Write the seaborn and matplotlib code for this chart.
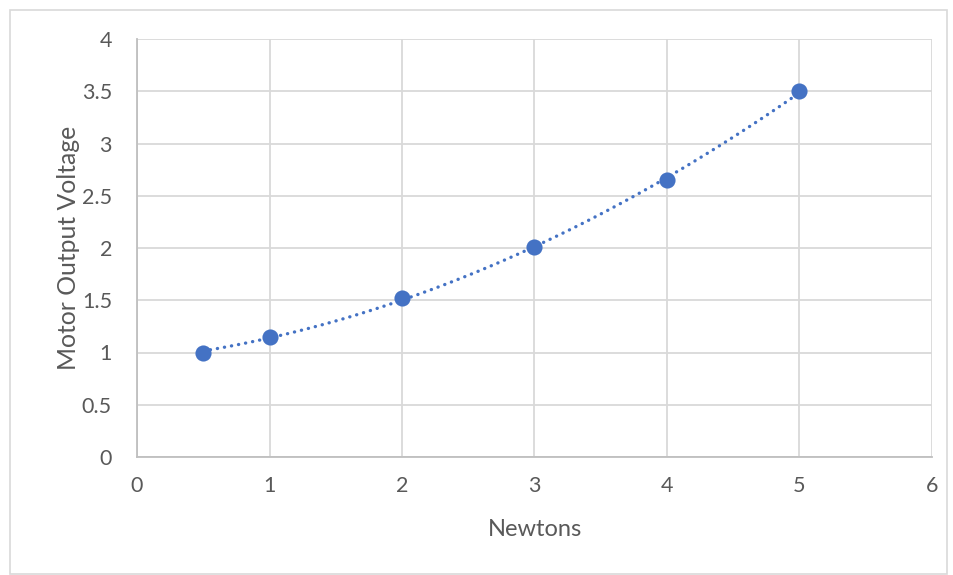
import matplotlib
matplotlib.use("Agg")
import matplotlib.pyplot as plt
from matplotlib.patches import Rectangle
import seaborn as sns
import pandas as pd

# Measured force vs. motor output voltage
newtons = [0.5, 1, 2, 3, 4, 5]
voltage = [1.0, 1.15, 1.52, 2.01, 2.65, 3.5]
x_ticks = [0, 1, 2, 3, 4, 5, 6]
y_ticks = [0, 0.5, 1, 1.5, 2, 2.5, 3, 3.5, 4]
y_tick_labels = ["0", "0.5", "1", "1.5", "2", "2.5", "3", "3.5", "4"]

df = pd.DataFrame({"Newtons": newtons, "Voltage": voltage})

sns.set_theme(style="white")
plt.rcParams["font.family"] = ["Lato", "DejaVu Sans"]

BLUE = "#4472C4"
TEXT = "#595959"
GRID = "#d9d9d9"

fig = plt.figure(figsize=(9.54, 5.75), dpi=100)
fig.patch.set_facecolor("white")
ax = fig.add_axes([137 / 954, 1 - 457 / 575, (932 - 137) / 954, (457 - 39) / 575])

# chart-area border
fig.add_artist(Rectangle((10 / 954, 1.5 / 575), 937 / 954, 563.5 / 575,
                         transform=fig.transFigure, fill=False,
                         edgecolor=GRID, linewidth=1.2))

# second-order polynomial trendline (dotted)
sns.regplot(data=df, x="Newtons", y="Voltage", order=2, ci=None, scatter=False,
            ax=ax, color=BLUE,
            line_kws=dict(linewidth=2.4, linestyle=(0, (0.05, 2.1)),
                          dash_capstyle="round"))

sns.scatterplot(data=df, x="Newtons", y="Voltage", ax=ax, color=BLUE,
                s=135, edgecolor=BLUE, linewidth=0, zorder=5)

ax.set_xlim(0, 6)
ax.set_ylim(0, 4)
ax.set_xticks(x_ticks)
ax.set_yticks(y_ticks)
ax.set_yticklabels(y_tick_labels)
ax.grid(True, color=GRID, linewidth=1.3)
ax.set_axisbelow(True)
for side in ["top", "right"]:
    ax.spines[side].set_visible(False)
for side in ["left", "bottom"]:
    ax.spines[side].set_color("#bfbfbf")
    ax.spines[side].set_linewidth(1.3)

ax.tick_params(axis="both", length=0, labelsize=15.5, labelcolor=TEXT)
ax.tick_params(axis="x", pad=14)
ax.tick_params(axis="y", pad=18)
ax.set_xlabel("Newtons", fontsize=17, color=TEXT, labelpad=16)
ax.set_ylabel("Motor Output Voltage", fontsize=17.8, color=TEXT, labelpad=1)

fig.savefig("out.png", dpi=100, facecolor="white")
